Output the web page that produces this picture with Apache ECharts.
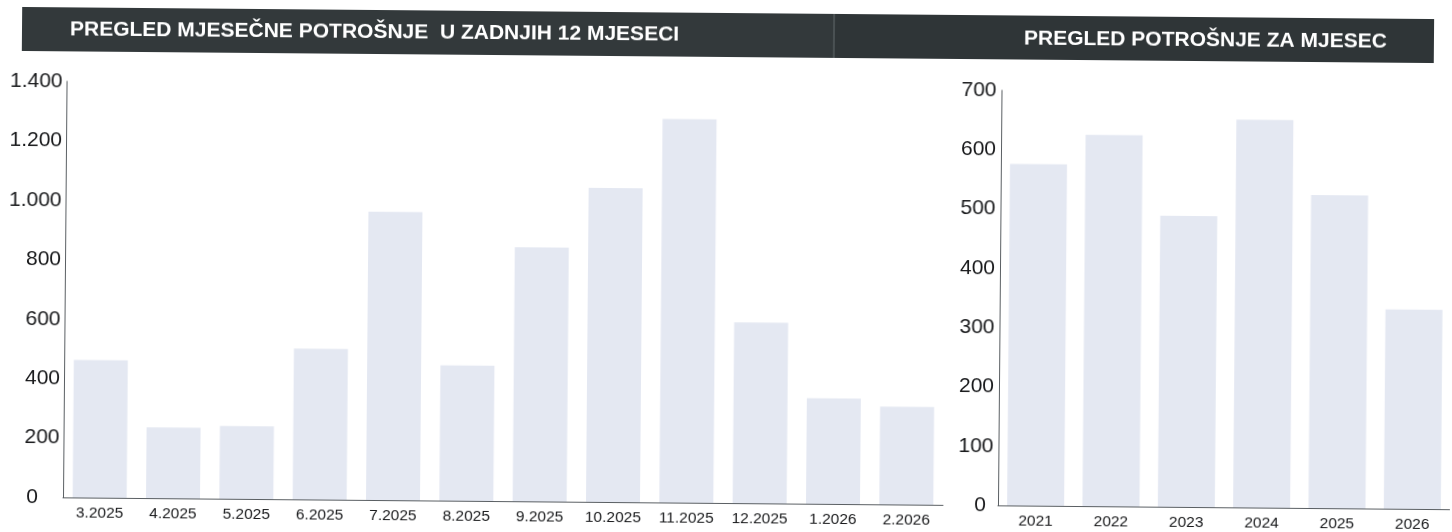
<!DOCTYPE html>
<html>
<head>
<meta charset="utf-8">
<script src="https://cdn.jsdelivr.net/npm/echarts@6/dist/echarts.min.js"></script>
<style>
html,body{margin:0;padding:0;background:#fff;overflow:hidden;}
#chart{width:1452px;height:532px;transform:rotate(0.49deg);transform-origin:726px 266px;}
</style>
</head>
<body>
<div id="chart"></div>
<script>
// Data
const monthCategories = ['3.2025','4.2025','5.2025','6.2025','7.2025','8.2025','9.2025','10.2025','11.2025','12.2025','1.2026','2.2026'];
const monthValues = [463, 238, 245, 507, 970, 455, 855, 1057, 1291, 608, 355, 329];
const yearCategories = ['2021','2022','2023','2024','2025','2026'];
const yearValues = [576, 626, 491, 654, 528, 336];
const leftTitle = 'PREGLED MJESEČNE POTROŠNJE  U ZADNJIH 12 MJESECI';
const rightTitle = 'PREGLED POTROŠNJE ZA MJESEC';

const FONT = '"Liberation Sans", Arial, sans-serif';
const barColor = '#e4e8f2';
const axisColor = '#5a5f63';
const labelColor = '#18191b';
const fmtLeft = v => v === 0 ? '{z|0}' : String(v).replace(/\B(?=(\d{3})+(?!\d))/g, '.');
const fmtRight = v => v === 0 ? '{z|0}' : String(v);

const chart = echarts.init(document.getElementById('chart'), null, {renderer: 'canvas'});
chart.setOption({
  backgroundColor: '#ffffff',
  animation: false,
  grid: [
    {left: 65, top: 87, width: 880, height: 416},
    {left: 1000, top: 88, width: 465, height: 415}
  ],
  xAxis: [
    {type: 'category', gridIndex: 0, data: monthCategories,
     axisLine: {show: true, lineStyle: {color: axisColor, width: 1}},
     axisTick: {show: false},
     axisLabel: {color: labelColor, fontFamily: FONT, fontSize: 15.5, margin: 8, interval: 0, hideOverlap: false}},
    {type: 'category', gridIndex: 1, data: yearCategories,
     axisLine: {show: true, lineStyle: {color: axisColor, width: 1}},
     axisTick: {show: false},
     axisLabel: {color: labelColor, fontFamily: FONT, fontSize: 15.5, margin: 8, interval: 0, hideOverlap: false}}
  ],
  yAxis: [
    {type: 'value', gridIndex: 0, min: 0, max: 1400, interval: 200,
     axisLine: {show: true, lineStyle: {color: axisColor, width: 1}},
     axisTick: {show: false}, splitLine: {show: false},
     axisLabel: {color: labelColor, fontFamily: FONT, fontSize: 21, margin: 4, formatter: fmtLeft,
       rich: {z: {fontFamily: FONT, fontSize: 21, color: labelColor, padding: [0, 21, 0, 0]}}}},
    {type: 'value', gridIndex: 1, min: 0, max: 700, interval: 100,
     axisLine: {show: true, lineStyle: {color: axisColor, width: 1}},
     axisTick: {show: false}, splitLine: {show: false},
     axisLabel: {color: labelColor, fontFamily: FONT, fontSize: 21, margin: 5, formatter: fmtRight,
       rich: {z: {fontFamily: FONT, fontSize: 21, color: labelColor, padding: [0, 7, 0, 0]}}}}
  ],
  series: [
    {type: 'bar', xAxisIndex: 0, yAxisIndex: 0, data: monthValues, barWidth: 54,
     itemStyle: {color: barColor}, silent: true},
    {type: 'bar', xAxisIndex: 1, yAxisIndex: 1, data: yearValues, barWidth: 57,
     itemStyle: {color: barColor}, silent: true}
  ],
  graphic: [
    {type: 'rect', shape: {x: 20, y: 13, width: 812, height: 44}, style: {fill: '#33393b'}, z: 10},
    {type: 'rect', shape: {x: 832, y: 13, width: 600, height: 44}, style: {fill: '#2f3537'}, z: 10},
    {type: 'rect', shape: {x: 831, y: 13, width: 2, height: 44}, style: {fill: '#4a5153'}, z: 11},
    {type: 'text', x: 68, y: 35, z: 12,
     style: {text: leftTitle, fill: '#ffffff', font: 'bold 21px "Liberation Sans", Arial, sans-serif', textVerticalAlign: 'middle', textAlign: 'left'}},
    {type: 'text', x: 1022, y: 36, z: 12,
     style: {text: rightTitle, fill: '#ffffff', font: 'bold 21px "Liberation Sans", Arial, sans-serif', textVerticalAlign: 'middle', textAlign: 'left'}}
  ]
});
</script>
</body>
</html>
